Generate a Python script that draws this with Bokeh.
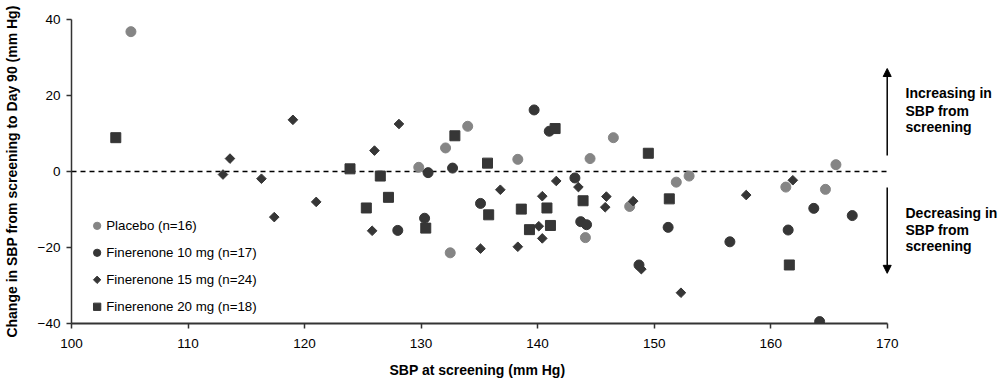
from bokeh.plotting import figure
from bokeh.models import Range1d, FixedTicker, Label, Arrow, NormalHead, Title
from bokeh.embed import file_html
from bokeh.resources import INLINE
from bokeh.core.properties import value

# ---------------- data ----------------
placebo_x = [105.1, 129.8, 132.1, 134.0, 138.3, 144.5, 146.5, 151.9, 153.0, 161.3, 164.7, 165.6, 147.9, 132.5, 144.1]
placebo_y = [36.8, 1.1, 6.2, 11.9, 3.2, 3.4, 8.9, -2.8, -1.2, -4.1, -4.7, 1.8, -9.2, -21.4, -17.4]

fin10_x = [130.6, 132.7, 139.7, 141.0, 143.2, 128.0, 130.3, 135.1, 143.7, 144.2, 148.7, 151.2, 156.5, 161.5, 163.7, 167.0, 164.2]
fin10_y = [-0.3, 0.9, 16.2, 10.6, -1.7, -15.5, -12.3, -8.4, -13.2, -14.0, -24.6, -14.7, -18.5, -15.4, -9.7, -11.6, -39.5]

fin15_x = [113.6, 113.0, 116.3, 119.0, 117.4, 121.0, 126.0, 128.1, 125.8, 135.1, 136.8, 138.3, 140.1, 140.4,
           140.4, 141.6, 143.5, 145.9, 145.8, 148.2, 148.9, 152.3, 157.9, 161.9]
fin15_y = [3.4, -0.8, -1.9, 13.6, -12.0, -8.0, 5.5, 12.5, -15.6, -20.3, -4.8, -19.8, -14.4, -6.5,
           -17.6, -2.5, -4.1, -6.6, -9.4, -7.8, -25.7, -31.9, -6.2, -2.3]

fin20_x = [103.8, 123.9, 126.5, 132.9, 135.7, 141.5, 149.5, 125.3, 127.2, 130.4, 135.8, 138.6, 139.3, 140.8,
           141.1, 143.9, 151.3, 161.6]
fin20_y = [8.9, 0.7, -1.2, 9.4, 2.2, 11.3, 4.8, -9.6, -6.8, -14.9, -11.4, -9.9, -15.3, -9.6,
           -14.2, -7.7, -7.2, -24.6]

series_labels = ["Placebo (n=16)", "Finerenone 10 mg (n=17)", "Finerenone 15 mg (n=24)", "Finerenone 20 mg (n=18)"]
x_ticks = [100, 110, 120, 130, 140, 150, 160, 170]
y_ticks = [-40, -20, 0, 20, 40]
y_tick_labels = ["\u221240", "\u221220", "0", "20", "40"]
x_title = "SBP at screening (mm Hg)"
y_title = "Change in SBP from screening to Day 90 (mm Hg)"
up_text = ["Increasing in", "SBP from", "screening"]
down_text = ["Decreasing in", "SBP from", "screening"]

# ---------------- style ----------------
FONT = "Liberation Sans"
GRAY = "#858585"
DARK = "#363636"
AXIS = "#333333"

W, H = 1000, 387
LEFT, TOP, BOTTOM = 71, 19, 64
PX_PER_UNIT = 11.653          # horizontal scale of the axis (px per mm Hg)
x_lo, x_hi = x_ticks[0], x_ticks[-1]
frame_w = W - LEFT
x_view_end = x_lo + frame_w / PX_PER_UNIT   # frame runs on past 170 to hold the side notes

p = figure(width=W, height=H, x_range=Range1d(x_lo, x_view_end), y_range=Range1d(y_ticks[0], y_ticks[-1]),
           output_backend="svg", toolbar_location=None,
           min_border_left=LEFT, min_border_right=0, min_border_top=TOP, min_border_bottom=BOTTOM)
p.xgrid.visible = False
p.ygrid.visible = False
p.outline_line_color = None
p.background_fill_color = "white"

for ax in (p.xaxis[0], p.yaxis[0]):
    ax.major_tick_out = 5
    ax.major_tick_in = 0
    ax.minor_tick_line_color = None
    ax.axis_line_color = AXIS
    ax.major_tick_line_color = AXIS
    ax.major_label_text_font = FONT
    ax.major_label_text_font_size = "13.5px"
    ax.major_label_text_color = "black"
    ax.axis_label_text_font = FONT
    ax.axis_label_text_font_style = "bold"
    ax.axis_label_text_font_size = "14px"
    ax.axis_label_text_color = "black"

p.xaxis.bounds = (x_lo, x_hi)
p.xaxis.axis_line_width = 2
p.xaxis.major_tick_line_width = 1.5
p.yaxis.axis_line_width = 1.5
p.yaxis.major_tick_line_width = 1.5
p.xaxis.ticker = FixedTicker(ticks=x_ticks)
p.yaxis.ticker = FixedTicker(ticks=y_ticks)
p.yaxis.major_label_overrides = {t: lab for t, lab in zip(y_ticks, y_tick_labels)}
p.xaxis.major_label_standoff = 10
p.yaxis.major_label_standoff = 6
p.yaxis.axis_label = y_title
p.yaxis.axis_label_standoff = 15

# x-axis title under the 100-170 axis (frame extends further right), left-aligned with offset
x_title_offset = 318
xt = Title(text=x_title, align="left", offset=x_title_offset, vertical_align="bottom",
           text_font=FONT, text_font_style="bold", text_font_size="14px",
           text_color="black", standoff=19)
try:
    xt.text_baseline = "alphabetic"
except AttributeError:
    pass
p.add_layout(xt, "below")

# zero reference line across the axis extent
p.line([x_lo, x_hi], [0, 0], line_color="black", line_width=1.3, line_dash="5 4")

# ---------------- markers ----------------
p.scatter(placebo_x, placebo_y, marker="circle", size=10, fill_color=GRAY, line_color=GRAY)
p.scatter(fin15_x, fin15_y, marker="square", angle=0.785398, size=6.8, fill_color=DARK, line_color=DARK)
p.scatter(fin10_x, fin10_y, marker="circle", size=10, fill_color=DARK, line_color=DARK)
p.scatter(fin20_x, fin20_y, marker="square", size=10, fill_color=DARK, line_color=DARK)

# ---------------- legend (drawn) ----------------
leg_y = [-14.3 - 7.1 * i for i in range(4)]
leg_mx = 102.2
leg_tx = 102.98
leg_specs = [("circle", 7.3, 0.0, GRAY), ("circle", 7.3, 0.0, DARK),
             ("square", 5.2, 0.785398, DARK), ("square", 7.3, 0.0, DARK)]
for (mk, sz, ang, col), yy in zip(leg_specs, leg_y):
    p.scatter([leg_mx], [yy], marker=mk, size=sz, angle=ang, fill_color=col, line_color=col)
p.text(x=[leg_tx] * 4, y=leg_y, text=series_labels, text_font=value(FONT), text_font_size="13.3px",
       text_color="black", text_baseline="middle", text_align="left")

# ---------------- arrows & notes ----------------
p.add_layout(Arrow(end=NormalHead(size=8, fill_color="black", line_color="black"),
                   x_start=x_hi, y_start=4.2, x_end=x_hi, y_end=27.1, line_width=1.5, line_color="black"))
p.add_layout(Arrow(end=NormalHead(size=8, fill_color="black", line_color="black"),
                   x_start=x_hi, y_start=-4.2, x_end=x_hi, y_end=-26.8, line_width=1.5, line_color="black"))

note_x = x_hi + 1.57
for txt, yy in zip(up_text, [20.6, 16.05, 11.6]):
    p.add_layout(Label(x=note_x, y=yy, text=txt, text_font=FONT, text_font_style="bold",
                       text_font_size="14px", text_baseline="middle", text_align="left", text_color="black"))
for txt, yy in zip(down_text, [-10.8, -15.3, -19.7]):
    p.add_layout(Label(x=note_x, y=yy, text=txt, text_font=FONT, text_font_style="bold",
                       text_font_size="14px", text_baseline="middle", text_align="left", text_color="black"))

open("out.html", "w").write(file_html(p, INLINE))
